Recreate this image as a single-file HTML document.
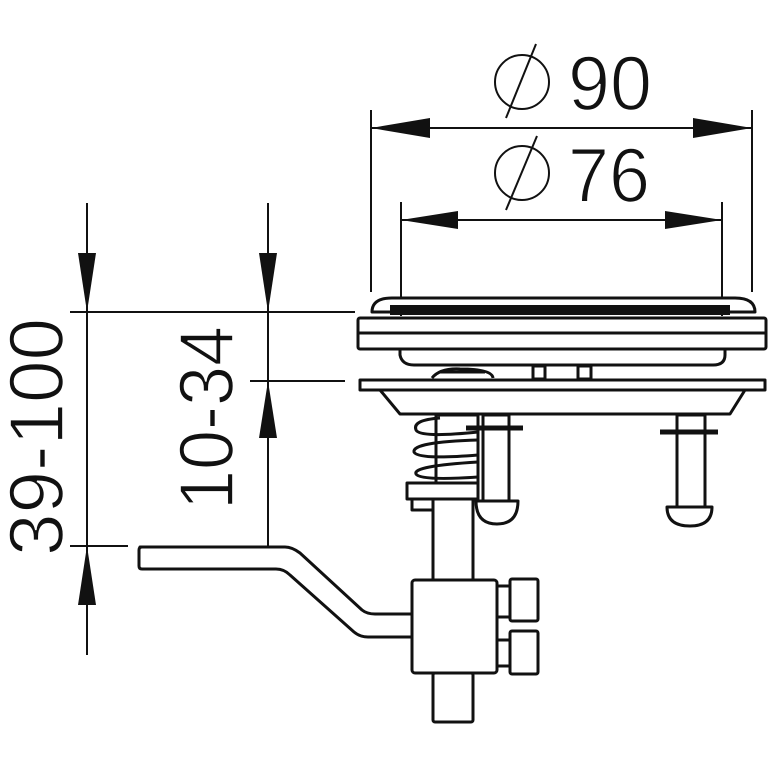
<!DOCTYPE html>
<html><head><meta charset="utf-8"><style>html,body{margin:0;padding:0;background:#fff}svg{display:block}</style></head>
<body>
<svg width="768" height="768" viewBox="0 0 768 768" xmlns="http://www.w3.org/2000/svg" font-family="Liberation Sans, sans-serif">
<rect width="768" height="768" fill="#fff"/>
<g stroke="#111" stroke-width="2" fill="none">
<line x1="371" y1="110" x2="371" y2="292"/>
<line x1="752" y1="110" x2="752" y2="292"/>
<line x1="371" y1="128" x2="752" y2="128"/>
<line x1="401" y1="202" x2="401" y2="316"/>
<line x1="722" y1="202" x2="722" y2="316"/>
<line x1="401" y1="220" x2="722" y2="220"/>
<circle cx="522" cy="82" r="27"/>
<line x1="536" y1="44" x2="506" y2="118"/>
<circle cx="522" cy="173" r="27"/>
<line x1="537" y1="136" x2="506" y2="210"/>
<line x1="87" y1="203" x2="87" y2="655"/>
<line x1="268" y1="203" x2="268" y2="546"/>
<line x1="70" y1="312" x2="355" y2="312"/>
<line x1="250" y1="381" x2="345" y2="381"/>
<line x1="70" y1="546" x2="128" y2="546"/>
</g>
<g fill="#111">
<polygon points="371,128 430,118 430,138"/>
<polygon points="752,128 693,118 693,138"/>
<polygon points="401,220 458,211 458,229"/>
<polygon points="722,220 665,211 665,229"/>
<polygon points="87,312 78,253 96,253"/>
<polygon points="268,312 259,253 277,253"/>
<polygon points="268,381 259,438 277,438"/>
<polygon points="87,546 78,605 96,605"/>
</g>
<g fill="#111" font-size="77" stroke="#fff" stroke-width="1.6">
<text x="568" y="110" textLength="84" lengthAdjust="spacingAndGlyphs">90</text>
<text x="568" y="202" textLength="82" lengthAdjust="spacingAndGlyphs">76</text>
<text transform="translate(63,556) rotate(-90)" textLength="238" lengthAdjust="spacingAndGlyphs">39-100</text>
<text transform="translate(233,510) rotate(-90)" textLength="184" lengthAdjust="spacingAndGlyphs">10-34</text>
</g>
<g stroke="#111" stroke-width="3" fill="#fff" stroke-linejoin="round">
<path d="M372,312 Q372,298 392,298 L735,298 Q755,298 755,312 Z"/>
<rect x="390" y="305" width="340" height="10" fill="#111" stroke="none"/>
<path d="M400,349 L400,355 Q402,365 414,365 L713,365 Q725,365 725,355 L725,349"/>
<rect x="358" y="318" width="408" height="31" rx="2"/>
<line x1="358" y1="333" x2="766" y2="333"/>
<path d="M432,378 Q440,368 460,369 Q492,369 493,378" />
<path d="M440,372 L485,372"/>
<rect x="533" y="366" width="12" height="13"/>
<rect x="578" y="366" width="13" height="13"/>
<path d="M380,390 L400,414 L730,414 L745,390 Z"/>
<rect x="360" y="380" width="405" height="10"/>
<rect x="436" y="415" width="42" height="68"/>
<path d="M440,418 Q412,420 416,430 Q420,438 478,432 M478,440 Q412,442 414,452 Q418,460 478,455 M478,462 Q412,466 416,474 Q420,481 478,477" fill="none"/>
<rect x="483" y="415" width="26" height="86"/>
<line x1="466" y1="428" x2="523" y2="428" stroke-width="5"/>
<path d="M476,501 L518,501 Q518,524 497,524 Q476,524 476,501 Z"/>
<rect x="677" y="415" width="28" height="92"/>
<line x1="660" y1="432" x2="718" y2="432" stroke-width="5"/>
<path d="M667,507 L712,507 Q712,526 690,526 Q667,526 667,507 Z"/>
<rect x="407" y="483" width="71" height="16"/>
<rect x="412" y="499" width="21" height="11"/>
<rect x="433" y="499" width="40" height="82"/>
<path d="M140,547 L285,547 Q292,547 300,553 L362,610 Q367,614 375,614 L420,614 L420,637 L368,637 Q360,637 354,632 L290,575 Q284,569 276,569 L142,569 Q139,569 139,566 L139,550 Q139,547 142,547 Z"/>
<rect x="412" y="580" width="85" height="93" rx="3"/>
<rect x="497" y="586" width="14" height="31"/>
<rect x="510" y="579" width="28" height="42" rx="2"/>
<rect x="497" y="640" width="14" height="26"/>
<rect x="510" y="631" width="28" height="43" rx="2"/>
<rect x="433" y="673" width="40" height="49" rx="2"/>
</g>
</svg>
</body></html>
